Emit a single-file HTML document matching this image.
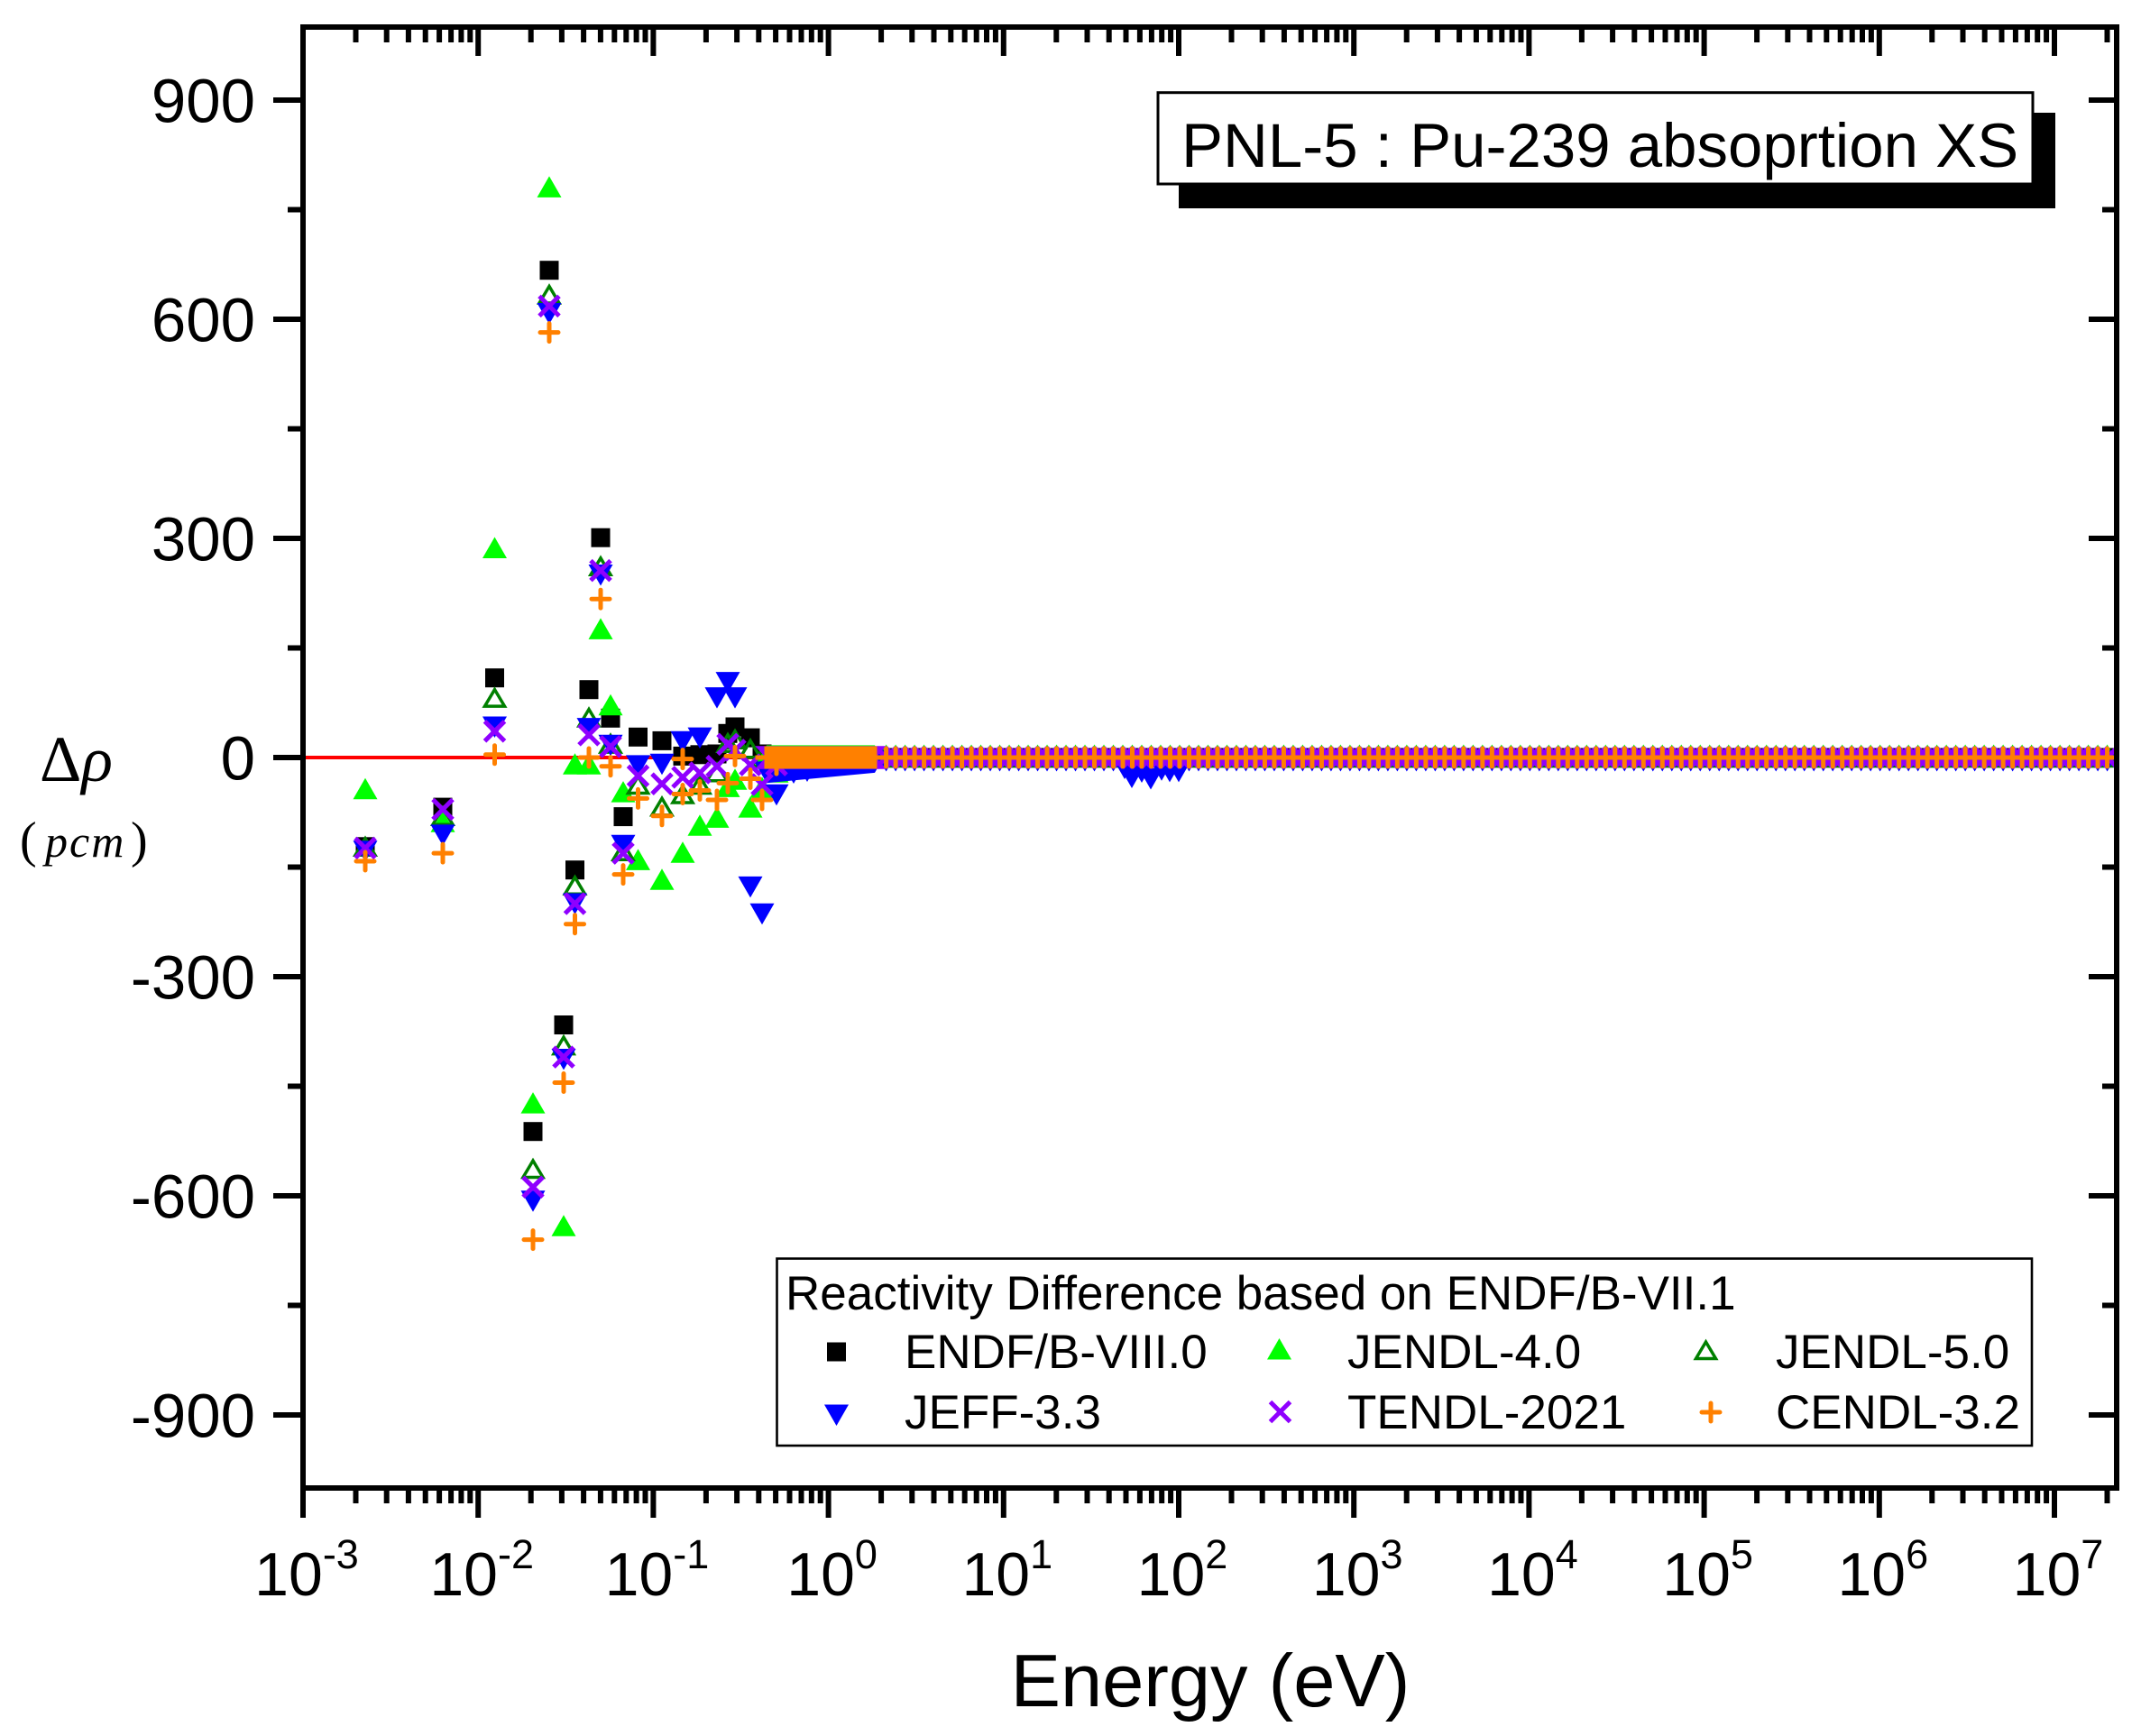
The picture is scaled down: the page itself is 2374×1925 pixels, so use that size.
<!DOCTYPE html>
<html>
<head>
<meta charset="utf-8">
<style>
html,body{margin:0;padding:0;background:#fff;}
svg{display:block;}
text{font-family:"Liberation Sans",Arial,sans-serif;fill:#000;}
.ser{font-family:"Liberation Serif","Times New Roman",serif;}
</style>
</head>
<body>
<svg width="2374" height="1925" viewBox="0 0 2374 1925" xmlns="http://www.w3.org/2000/svg">
<defs>
  <g id="mK"><rect x="-10.5" y="-10.5" width="21" height="21" fill="#000"/></g>
  <g id="mG"><path d="M0,-12L13.5,11.5L-13.5,11.5Z" fill="#00FF00"/></g>
  <g id="mO"><path d="M0,-9L11,9.5L-11,9.5Z" fill="none" stroke="#008000" stroke-width="3.5"/></g>
  <g id="mB"><path d="M-13.5,-11.5L13.5,-11.5L0,12Z" fill="#0000FF"/></g>
  <g id="mP"><path d="M-11,-11L11,11M-11,11L11,-11" stroke="#8F00FF" stroke-width="5" fill="none"/></g>
  <g id="mC"><path d="M-10,0H10M0,-10V10" stroke="#FF8000" stroke-width="5" stroke-linecap="round" fill="none"/></g>

  <g id="rK"><use href="#mK" x="0" y="840"/><use href="#mK" x="10.496" y="840"/><use href="#mK" x="20.992" y="840"/><use href="#mK" x="31.488" y="840"/><use href="#mK" x="41.984" y="840"/><use href="#mK" x="52.48" y="840"/><use href="#mK" x="62.976" y="840"/><use href="#mK" x="73.472" y="840"/><use href="#mK" x="83.968" y="840"/><use href="#mK" x="94.464" y="840"/></g>
  <g id="rG"><use href="#mG" x="0" y="837.5"/><use href="#mG" x="10.496" y="837.5"/><use href="#mG" x="20.992" y="837.5"/><use href="#mG" x="31.488" y="837.5"/><use href="#mG" x="41.984" y="837.5"/><use href="#mG" x="52.48" y="837.5"/><use href="#mG" x="62.976" y="837.5"/><use href="#mG" x="73.472" y="837.5"/><use href="#mG" x="83.968" y="837.5"/><use href="#mG" x="94.464" y="837.5"/></g>
  <g id="rO"><use href="#mO" x="0" y="840"/><use href="#mO" x="10.496" y="840"/><use href="#mO" x="20.992" y="840"/><use href="#mO" x="31.488" y="840"/><use href="#mO" x="41.984" y="840"/><use href="#mO" x="52.48" y="840"/><use href="#mO" x="62.976" y="840"/><use href="#mO" x="73.472" y="840"/><use href="#mO" x="83.968" y="840"/><use href="#mO" x="94.464" y="840"/></g>
  <g id="rB"><use href="#mB" x="0" y="843.5"/><use href="#mB" x="10.496" y="843.5"/><use href="#mB" x="20.992" y="843.5"/><use href="#mB" x="31.488" y="843.5"/><use href="#mB" x="41.984" y="843.5"/><use href="#mB" x="52.48" y="843.5"/><use href="#mB" x="62.976" y="843.5"/><use href="#mB" x="73.472" y="843.5"/><use href="#mB" x="83.968" y="843.5"/><use href="#mB" x="94.464" y="843.5"/></g>
  <g id="rP"><use href="#mP" x="0" y="840"/><use href="#mP" x="10.496" y="840"/><use href="#mP" x="20.992" y="840"/><use href="#mP" x="31.488" y="840"/><use href="#mP" x="41.984" y="840"/><use href="#mP" x="52.48" y="840"/><use href="#mP" x="62.976" y="840"/><use href="#mP" x="73.472" y="840"/><use href="#mP" x="83.968" y="840"/><use href="#mP" x="94.464" y="840"/></g>
  <g id="rC"><use href="#mC" x="0" y="840"/><use href="#mC" x="10.496" y="840"/><use href="#mC" x="20.992" y="840"/><use href="#mC" x="31.488" y="840"/><use href="#mC" x="41.984" y="840"/><use href="#mC" x="52.48" y="840"/><use href="#mC" x="62.976" y="840"/><use href="#mC" x="73.472" y="840"/><use href="#mC" x="83.968" y="840"/><use href="#mC" x="94.464" y="840"/></g>

  <clipPath id="plotclip"><rect x="339" y="33" width="2005" height="1614"/></clipPath>
  <clipPath id="tickclip"><rect x="300" y="0" width="2050" height="1925"/></clipPath>

  <g id="decB"><path d="M0,1650v33M58.5,1650v17M92.7,1650v17M116.9,1650v17M135.7,1650v17M151.1,1650v17M164.1,1650v17M175.4,1650v17M185.3,1650v17" stroke="#000" stroke-width="6" fill="none"/></g>
  <g id="decT"><path d="M0,30v32M58.5,30v17M92.7,30v17M116.9,30v17M135.7,30v17M151.1,30v17M164.1,30v17M175.4,30v17M185.3,30v17" stroke="#000" stroke-width="6" fill="none"/></g>
</defs>

<rect x="0" y="0" width="2374" height="1925" fill="#fff"/>

<!-- right-axis zero tick drawn beneath the data -->
<path d="M2347,840h-31" stroke="#000" stroke-width="6"/>

<!-- data -->
<g clip-path="url(#plotclip)">
  <!-- red zero line -->
  <rect x="339" y="838" width="2005" height="4" fill="#FF0000"/>

  <!-- ENDF/B-VIII.0 -->
  <g>
  <rect x="839.5" y="829.5" width="141" height="21" fill="#000"/>
  <use href="#mK" x="405" y="938.8"/><use href="#mK" x="491" y="895.1"/><use href="#mK" x="548.5" y="751.7"/>
  <use href="#mK" x="591" y="1254.7"/><use href="#mK" x="609" y="299.7"/><use href="#mK" x="625" y="1136.5"/>
  <use href="#mK" x="637.5" y="964.7"/><use href="#mK" x="653" y="764.7"/><use href="#mK" x="666" y="596.2"/>
  <use href="#mK" x="677" y="796.3"/><use href="#mK" x="691" y="905.6"/><use href="#mK" x="707.5" y="817.3"/>
  <use href="#mK" x="734" y="821.4"/><use href="#mK" x="757" y="838.4"/><use href="#mK" x="776" y="836.8"/>
  <use href="#mK" x="795" y="836"/><use href="#mK" x="807" y="813.3"/><use href="#mK" x="815" y="806"/>
  <use href="#mK" x="832" y="818.1"/><use href="#mK" x="845" y="836"/><use href="#mK" x="861" y="837.6"/>
  <use href="#rK" x="982.6"/><use href="#rK" x="1087.56"/><use href="#rK" x="1192.52"/><use href="#rK" x="1297.48"/><use href="#rK" x="1402.44"/><use href="#rK" x="1507.4"/><use href="#rK" x="1612.36"/><use href="#rK" x="1717.32"/><use href="#rK" x="1822.28"/><use href="#rK" x="1927.24"/><use href="#rK" x="2032.2"/><use href="#rK" x="2137.16"/><use href="#rK" x="2242.12"/>
  </g>

  <!-- JENDL-4.0 -->
  <g>
  <polygon points="836.5,850 850,826.4 970,826.4 983.5,850" fill="#00FF00"/>
  <use href="#mG" x="405" y="874.8"/><use href="#mG" x="491" y="911.3"/><use href="#mG" x="548.5" y="607.5"/>
  <use href="#mG" x="591" y="1223.1"/><use href="#mG" x="609" y="207.4"/><use href="#mG" x="625" y="1359.2"/>
  <use href="#mG" x="637.5" y="847.3"/><use href="#mG" x="653" y="847.3"/><use href="#mG" x="666" y="697.4"/>
  <use href="#mG" x="677" y="781.7"/><use href="#mG" x="691" y="878.1"/><use href="#mG" x="707.5" y="953.4"/>
  <use href="#mG" x="734" y="975.3"/><use href="#mG" x="757" y="945.3"/><use href="#mG" x="776" y="915.3"/>
  <use href="#mG" x="795" y="906.4"/><use href="#mG" x="807" y="872.4"/><use href="#mG" x="815" y="864.3"/>
  <use href="#mG" x="832" y="895.1"/><use href="#mG" x="845" y="873.2"/><use href="#mG" x="861" y="856.2"/>
  <use href="#rG" x="982.6"/><use href="#rG" x="1087.56"/><use href="#rG" x="1192.52"/><use href="#rG" x="1297.48"/><use href="#rG" x="1402.44"/><use href="#rG" x="1507.4"/><use href="#rG" x="1612.36"/><use href="#rG" x="1717.32"/><use href="#rG" x="1822.28"/><use href="#rG" x="1927.24"/><use href="#rG" x="2032.2"/><use href="#rG" x="2137.16"/><use href="#rG" x="2242.12"/>
  </g>

  <!-- JENDL-5.0 -->
  <g>
  <use href="#mO" x="405" y="938.8"/><use href="#mO" x="491" y="904.8"/><use href="#mO" x="548.5" y="773.6"/>
  <use href="#mO" x="591" y="1296"/><use href="#mO" x="609" y="326.5"/><use href="#mO" x="625" y="1159.1"/>
  <use href="#mO" x="637.5" y="981.8"/><use href="#mO" x="653" y="795.5"/><use href="#mO" x="666" y="627.8"/>
  <use href="#mO" x="677" y="824.6"/><use href="#mO" x="691" y="943.7"/><use href="#mO" x="707.5" y="870"/>
  <use href="#mO" x="734" y="894.3"/><use href="#mO" x="757" y="880.5"/><use href="#mO" x="776" y="870"/>
  <use href="#mO" x="795" y="856.2"/><use href="#mO" x="807" y="823.8"/><use href="#mO" x="815" y="819.8"/>
  <use href="#mO" x="832" y="830.3"/><use href="#mO" x="845" y="840"/><use href="#mO" x="861" y="840"/>
  <use href="#rO" x="982.6"/><use href="#rO" x="1087.56"/><use href="#rO" x="1192.52"/><use href="#rO" x="1297.48"/><use href="#rO" x="1402.44"/><use href="#rO" x="1507.4"/><use href="#rO" x="1612.36"/><use href="#rO" x="1717.32"/><use href="#rO" x="1822.28"/><use href="#rO" x="1927.24"/><use href="#rO" x="2032.2"/><use href="#rO" x="2137.16"/><use href="#rO" x="2242.12"/>
  </g>

  <!-- JEFF-3.3 -->
  <g>
  <polygon points="836.5,844.7 983.5,833.4 970,856.9 850,868.2" fill="#0000FF"/>
  <use href="#mB" x="405" y="943.7"/><use href="#mB" x="491" y="925.9"/><use href="#mB" x="548.5" y="806"/>
  <use href="#mB" x="591" y="1331.7"/><use href="#mB" x="609" y="347.5"/><use href="#mB" x="625" y="1174.5"/>
  <use href="#mB" x="637.5" y="1002"/><use href="#mB" x="653" y="807.6"/><use href="#mB" x="666" y="637.5"/>
  <use href="#mB" x="677" y="826.2"/><use href="#mB" x="691" y="937.2"/><use href="#mB" x="707.5" y="848.9"/>
  <use href="#mB" x="734" y="847.3"/><use href="#mB" x="757" y="822.2"/><use href="#mB" x="776" y="818.1"/>
  <use href="#mB" x="795" y="773.6"/><use href="#mB" x="807" y="756.6"/><use href="#mB" x="815" y="773.6"/>
  <use href="#mB" x="832" y="983.4"/><use href="#mB" x="845" y="1013.3"/><use href="#mB" x="861" y="881.3"/>
  <use href="#mB" x="880" y="857"/><use href="#mB" x="895" y="855"/>
  <use href="#rB" x="982.6"/><use href="#rB" x="1087.56"/><use href="#rB" x="1192.52"/><use href="#rB" x="1297.48"/><use href="#rB" x="1402.44"/><use href="#rB" x="1507.4"/><use href="#rB" x="1612.36"/><use href="#rB" x="1717.32"/><use href="#rB" x="1822.28"/><use href="#rB" x="1927.24"/><use href="#rB" x="2032.2"/><use href="#rB" x="2137.16"/><use href="#rB" x="2242.12"/>
  <use href="#mB" x="1247" y="852"/><use href="#mB" x="1255" y="862"/><use href="#mB" x="1266" y="856"/>
  <use href="#mB" x="1276" y="863.5"/><use href="#mB" x="1288" y="853.8"/><use href="#mB" x="1297" y="855.4"/>
  <use href="#mB" x="1307" y="855.4"/>
  </g>

  <!-- TENDL-2021 -->
  <g>
  <polygon points="837.2,827.2 982.8,827.2 971,840 982.8,852.8 837.2,852.8 849,840" fill="#8F00FF"/>
  <use href="#mP" x="405" y="940.4"/><use href="#mP" x="491" y="897.5"/><use href="#mP" x="548.5" y="810.8"/>
  <use href="#mP" x="591" y="1316.3"/><use href="#mP" x="609" y="339.4"/><use href="#mP" x="625" y="1172.1"/>
  <use href="#mP" x="637.5" y="1002"/><use href="#mP" x="653" y="814.9"/><use href="#mP" x="666" y="632.6"/>
  <use href="#mP" x="677" y="827.9"/><use href="#mP" x="691" y="946.1"/><use href="#mP" x="707.5" y="860.3"/>
  <use href="#mP" x="734" y="869.2"/><use href="#mP" x="757" y="861.9"/><use href="#mP" x="776" y="857"/>
  <use href="#mP" x="795" y="849.7"/><use href="#mP" x="807" y="825.4"/><use href="#mP" x="815" y="831.9"/>
  <use href="#mP" x="832" y="848.1"/><use href="#mP" x="845" y="870"/><use href="#mP" x="861" y="848.1"/>
  <use href="#rP" x="982.6"/><use href="#rP" x="1087.56"/><use href="#rP" x="1192.52"/><use href="#rP" x="1297.48"/><use href="#rP" x="1402.44"/><use href="#rP" x="1507.4"/><use href="#rP" x="1612.36"/><use href="#rP" x="1717.32"/><use href="#rP" x="1822.28"/><use href="#rP" x="1927.24"/><use href="#rP" x="2032.2"/><use href="#rP" x="2137.16"/><use href="#rP" x="2242.12"/>
  </g>

  <!-- CENDL-3.2 -->
  <g>
  <rect x="837.5" y="837.5" width="145" height="5" fill="#FF8000"/>
  <rect x="847.5" y="827.5" width="125" height="25" fill="#FF8000"/>
  <use href="#mC" x="405" y="955"/><use href="#mC" x="491" y="946.1"/><use href="#mC" x="548.5" y="836.8"/>
  <use href="#mC" x="591" y="1374.6"/><use href="#mC" x="609" y="368.6"/><use href="#mC" x="625" y="1200.5"/>
  <use href="#mC" x="637.5" y="1024.7"/><use href="#mC" x="653" y="840"/><use href="#mC" x="666" y="664.2"/>
  <use href="#mC" x="677" y="849.7"/><use href="#mC" x="691" y="969.6"/><use href="#mC" x="707.5" y="885.4"/>
  <use href="#mC" x="734" y="904.8"/><use href="#mC" x="757" y="880.5"/><use href="#mC" x="757" y="841.6"/>
  <use href="#mC" x="776" y="876.5"/><use href="#mC" x="795" y="887"/><use href="#mC" x="807" y="868.4"/>
  <use href="#mC" x="815" y="838.4"/><use href="#mC" x="832" y="863.5"/><use href="#mC" x="845" y="887"/>
  <use href="#mC" x="861" y="848.1"/>
  <use href="#rC" x="982.6"/><use href="#rC" x="1087.56"/><use href="#rC" x="1192.52"/><use href="#rC" x="1297.48"/><use href="#rC" x="1402.44"/><use href="#rC" x="1507.4"/><use href="#rC" x="1612.36"/><use href="#rC" x="1717.32"/><use href="#rC" x="1822.28"/><use href="#rC" x="1927.24"/><use href="#rC" x="2032.2"/><use href="#rC" x="2137.16"/><use href="#rC" x="2242.12"/>
  </g>
</g>

<!-- axes frame -->
<rect x="336" y="30" width="2011" height="1620" fill="none" stroke="#000" stroke-width="6"/>

<!-- x ticks -->
<g clip-path="url(#tickclip)">
  <use href="#decB" x="336"/><use href="#decB" x="530.2"/><use href="#decB" x="724.4"/><use href="#decB" x="918.6"/>
  <use href="#decB" x="1112.8"/><use href="#decB" x="1307"/><use href="#decB" x="1501.2"/><use href="#decB" x="1695.4"/>
  <use href="#decB" x="1889.6"/><use href="#decB" x="2083.8"/><use href="#decB" x="2278"/>
  <use href="#decT" x="336"/><use href="#decT" x="530.2"/><use href="#decT" x="724.4"/><use href="#decT" x="918.6"/>
  <use href="#decT" x="1112.8"/><use href="#decT" x="1307"/><use href="#decT" x="1501.2"/><use href="#decT" x="1695.4"/>
  <use href="#decT" x="1889.6"/><use href="#decT" x="2083.8"/><use href="#decT" x="2278"/>
</g>

<!-- y ticks -->
<path d="M336,111h-33M336,354h-33M336,597h-33M336,840h-33M336,1083h-33M336,1326h-33M336,1569h-33
M336,232.5h-17M336,475.5h-17M336,718.5h-17M336,961.5h-17M336,1204.5h-17M336,1447.5h-17
M2347,111h-31M2347,354h-31M2347,597h-31M2347,1083h-31M2347,1326h-31M2347,1569h-31
M2347,232.5h-16M2347,475.5h-16M2347,718.5h-16M2347,961.5h-16M2347,1204.5h-16M2347,1447.5h-16" stroke="#000" stroke-width="6" fill="none"/>

<!-- y tick labels -->
<g font-size="69" text-anchor="end">
  <text x="283" y="135.5">900</text>
  <text x="283" y="378.5">600</text>
  <text x="283" y="621.5">300</text>
  <text x="283" y="864.5">0</text>
  <text x="283" y="1107.5">-300</text>
  <text x="283" y="1350.5">-600</text>
  <text x="283" y="1593.5">-900</text>
</g>

<!-- x tick labels -->
<g font-size="68" text-anchor="middle">
  <text x="340" y="1769">10<tspan font-size="45" dy="-30">-3</tspan></text>
  <text x="534.2" y="1769">10<tspan font-size="45" dy="-30">-2</tspan></text>
  <text x="728.4" y="1769">10<tspan font-size="45" dy="-30">-1</tspan></text>
  <text x="922.6" y="1769">10<tspan font-size="45" dy="-30">0</tspan></text>
  <text x="1116.8" y="1769">10<tspan font-size="45" dy="-30">1</tspan></text>
  <text x="1311" y="1769">10<tspan font-size="45" dy="-30">2</tspan></text>
  <text x="1505.2" y="1769">10<tspan font-size="45" dy="-30">3</tspan></text>
  <text x="1699.4" y="1769">10<tspan font-size="45" dy="-30">4</tspan></text>
  <text x="1893.6" y="1769">10<tspan font-size="45" dy="-30">5</tspan></text>
  <text x="2087.8" y="1769">10<tspan font-size="45" dy="-30">6</tspan></text>
  <text x="2282" y="1769">10<tspan font-size="45" dy="-30">7</tspan></text>
</g>

<!-- axis titles -->
<text x="1342" y="1892" font-size="83" text-anchor="middle">Energy (eV)</text>
<text class="ser" x="44" y="866" font-size="72">Δ<tspan font-style="italic">ρ</tspan></text>
<text class="ser" x="22" y="950" font-size="56">(</text>
<text class="ser" x="50" y="950" font-size="50" font-style="italic" letter-spacing="2">pcm</text>
<text class="ser" x="145" y="950" font-size="56">)</text>

<!-- title box -->
<rect x="1307" y="125" width="972" height="106" fill="#000"/>
<rect x="1284" y="102.7" width="970" height="101.3" fill="#fff" stroke="#000" stroke-width="3"/>
<text x="1310" y="185" font-size="69">PNL-5 : Pu-239 absoprtion XS</text>

<!-- legend -->
<rect x="861.5" y="1395.6" width="1391.5" height="207.4" fill="#fff" stroke="#000" stroke-width="2.6"/>
<g font-size="53">
  <text x="871" y="1452">Reactivity Difference based on ENDF/B-VII.1</text>
  <text x="1003" y="1517">ENDF/B-VIII.0</text>
  <text x="1494" y="1517">JENDL-4.0</text>
  <text x="1969" y="1517">JENDL-5.0</text>
  <text x="1003" y="1584">JEFF-3.3</text>
  <text x="1494" y="1584">TENDL-2021</text>
  <text x="1969" y="1584">CENDL-3.2</text>
</g>
<use href="#mK" x="927.5" y="1499"/>
<use href="#mB" x="927.5" y="1569"/>
<use href="#mG" x="1418.5" y="1496"/>
<use href="#mP" x="1419.5" y="1565.5"/>
<use href="#mO" x="1891.5" y="1497"/>
<use href="#mC" x="1897" y="1566"/>
</svg>
</body>
</html>
